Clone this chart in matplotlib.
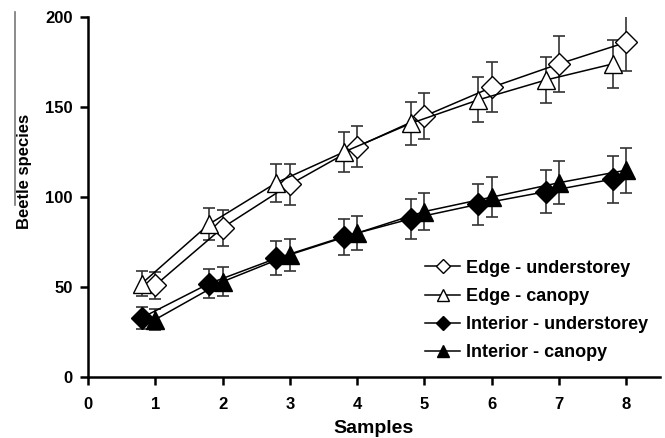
import matplotlib
matplotlib.use("Agg")
import matplotlib.pyplot as plt
from matplotlib.lines import Line2D

plt.rcParams['font.family'] = ['Liberation Sans', 'DejaVu Sans']
plt.rcParams['font.weight'] = 'bold'

# sample positions (understorey/canopy pairs are offset by 0.2)
samples = [1, 2, 3, 4, 5, 6, 7, 8]
samples_off = [0.8, 1.8, 2.8, 3.8, 4.8, 5.8, 6.8, 7.8]

edge_under = [51, 83, 107, 128, 145, 161, 174, 186]
edge_under_err = [7.5, 10, 11.5, 11.5, 13, 14, 15.5, 16]

edge_canopy = [52, 85, 108, 125, 141, 154, 165, 174]
edge_canopy_err = [7, 9, 10.5, 11, 12, 12.5, 13, 13.5]

int_under = [33, 52, 66, 78, 88, 96, 103, 110]
int_under_err = [6, 8, 9.5, 10, 11, 11.5, 12, 13]

int_canopy = [32, 53, 68, 80, 92, 100, 108, 115]
int_canopy_err = [6, 8, 9, 9.5, 10.5, 11, 12, 12.5]

fig = plt.figure(figsize=(6.65, 4.38), dpi=100)
ax = fig.add_axes([0.1323, 0.139, 0.8602, 0.822])

err_kw = dict(ecolor='#333333', elinewidth=1.2, capsize=4, capthick=1.2, color='black', lw=1.1, mec='black')

ax.errorbar(samples, edge_under, yerr=edge_under_err, marker='D', ms=11, mfc='white', zorder=3, **err_kw)
ax.errorbar(samples_off, edge_canopy, yerr=edge_canopy_err, marker='^', ms=12.5, mfc='white', zorder=3, **err_kw)
ax.errorbar(samples_off, int_under, yerr=int_under_err, marker='D', ms=11, mfc='black', zorder=3, **err_kw)
ax.errorbar(samples, int_canopy, yerr=int_canopy_err, marker='^', ms=12.5, mfc='black', zorder=3, **err_kw)

ax.set_xlim(0, 8.5)
ax.set_ylim(0, 200)
ax.set_xticks(range(0, 9))
ax.set_yticks(range(0, 201, 50))
for s in ['top', 'right']:
    ax.spines[s].set_visible(False)
for s in ['left', 'bottom']:
    ax.spines[s].set_linewidth(1.8)
ax.tick_params(direction='out', length=6, width=1.8, labelsize=12, pad=5)
ax.tick_params(axis='x', pad=8)
ax.set_xlabel('Samples', fontsize=14, fontweight='bold', labelpad=6)
ax.set_ylabel('Beetle species', fontsize=12, fontweight='bold')
ax.yaxis.set_label_coords(-0.097, 0.57)

handles = [
    Line2D([], [], color='black', lw=1.1, marker='D', ms=7, mfc='white', mec='black'),
    Line2D([], [], color='black', lw=1.1, marker='^', ms=9, mfc='white', mec='black'),
    Line2D([], [], color='black', lw=1.1, marker='D', ms=7, mfc='black', mec='black'),
    Line2D([], [], color='black', lw=1.1, marker='^', ms=9, mfc='black', mec='black'),
]
labels = ['Edge - understorey', 'Edge - canopy', 'Interior - understorey', 'Interior - canopy']
ax.legend(handles, labels, loc='lower right', bbox_to_anchor=(0.998, 0.014), frameon=False,
          prop={'size': 13, 'weight': 'bold'}, handlelength=1.95, handletextpad=0.3,
          labelspacing=0.62, borderaxespad=0.2)

# stray vertical rule to the left of the axis label
fig.add_artist(Line2D([15 / 665, 15 / 665], [1 - 12 / 438, 1 - 205 / 438], color='#777777', lw=1.2))

fig.savefig('out.png', dpi=100)
